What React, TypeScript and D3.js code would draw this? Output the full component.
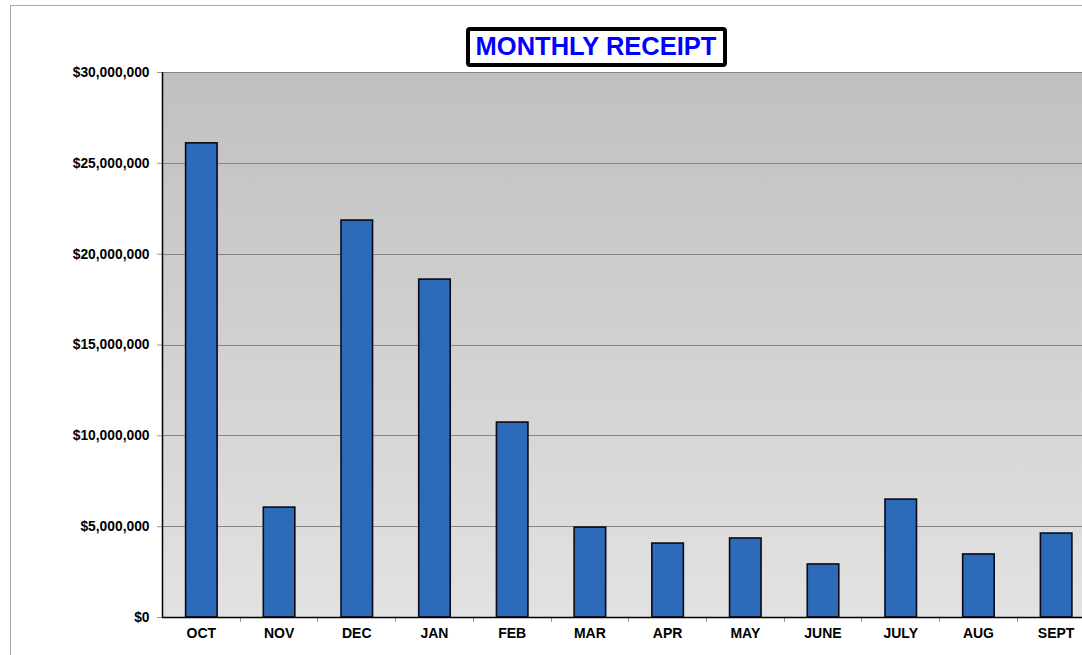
import * as d3 from 'd3';
import React, { useRef, useEffect } from 'react';

const months = ['OCT', 'NOV', 'DEC', 'JAN', 'FEB', 'MAR', 'APR', 'MAY', 'JUNE', 'JULY', 'AUG', 'SEPT'];
const receipts = [26100000, 6050000, 21850000, 18600000, 10730000, 4950000, 4070000, 4350000, 2920000, 6490000, 3470000, 4620000];
const yTicks = [0, 5000000, 10000000, 15000000, 20000000, 25000000, 30000000];

const W = 1082;
const H = 655;

function App() {
    const ref = useRef(null);

    useEffect(() => {
        draw();
    }, []);

    const draw = () => {
        const svg = d3.select(ref.current);
        svg.selectAll('*').remove();

        const left = 162, top = 72, bottom = 617, right = 1094.5;

        const x = d3.scaleBand().domain(months).range([left, right]).paddingInner(0).paddingOuter(0);
        const y = d3.scaleLinear().domain([0, 30000000]).range([bottom, top]);

        const defs = svg.append('defs');
        const grad = defs.append('linearGradient')
            .attr('id', 'bg')
            .attr('x1', 0).attr('y1', 0).attr('x2', 0).attr('y2', 1);
        grad.append('stop').attr('offset', '0%').attr('stop-color', '#c0c0c0');
        grad.append('stop').attr('offset', '100%').attr('stop-color', '#e2e2e2');

        // outer frame
        svg.append('rect')
            .attr('x', 10.5).attr('y', 5.5)
            .attr('width', W + 20).attr('height', H + 20)
            .attr('fill', 'white')
            .attr('stroke', '#a6a6a6');

        // plot background
        svg.append('rect')
            .attr('x', left).attr('y', top)
            .attr('width', right - left).attr('height', bottom - top)
            .attr('fill', 'url(#bg)');

        // gridlines
        svg.append('g')
            .selectAll('line')
            .data(yTicks.filter(d => d > 0))
            .enter()
            .append('line')
            .attr('x1', left).attr('x2', right)
            .attr('y1', d => Math.round(y(d)) + 0.5)
            .attr('y2', d => Math.round(y(d)) + 0.5)
            .attr('stroke', '#858585')
            .attr('stroke-width', 1);

        // y axis
        const yAxis = d3.axisLeft(y)
            .tickValues(yTicks)
            .tickSize(5)
            .tickPadding(7.5)
            .tickFormat(d => '$' + d3.format(',')(d));
        const gy = svg.append('g')
            .attr('transform', `translate(${left},0)`)
            .call(yAxis);
        gy.select('.domain').remove();
        gy.selectAll('.tick line').attr('stroke', '#999');
        gy.selectAll('.tick text')
            .attr('font-family', 'Liberation Sans, Arial, sans-serif')
            .attr('font-size', 13.8)
            .attr('font-weight', 'bold')
            .attr('fill', '#000');

        // bars
        const bw = 31.5;
        svg.append('g')
            .selectAll('rect')
            .data(receipts)
            .enter()
            .append('rect')
            .attr('x', (d, i) => x(months[i]) + x.bandwidth() / 2 - bw / 2 + 0.5)
            .attr('y', d => y(d))
            .attr('width', bw)
            .attr('height', d => bottom - y(d))
            .attr('fill', '#2d6bba')
            .attr('stroke', '#0a0a14')
            .attr('stroke-width', 1.6);

        // x axis ticks at band boundaries
        svg.append('g')
            .selectAll('line')
            .data(months.slice(1))
            .enter()
            .append('line')
            .attr('x1', d => Math.round(x(d)) + 0.5)
            .attr('x2', d => Math.round(x(d)) + 0.5)
            .attr('y1', bottom).attr('y2', bottom + 5)
            .attr('stroke', '#999');

        svg.append('g')
            .selectAll('text')
            .data(months)
            .enter()
            .append('text')
            .attr('x', d => x(d) + x.bandwidth() / 2 + 0.5)
            .attr('y', bottom + 21)
            .attr('text-anchor', 'middle')
            .attr('font-family', 'Liberation Sans, Arial, sans-serif')
            .attr('font-size', 14)
            .attr('font-weight', 'bold')
            .text(d => d);

        // axis lines
        svg.append('line')
            .attr('x1', left + 0.5).attr('x2', left + 0.5)
            .attr('y1', top).attr('y2', bottom + 0.5)
            .attr('stroke', '#000').attr('stroke-width', 1.5);
        svg.append('line')
            .attr('x1', left).attr('x2', right)
            .attr('y1', bottom + 0.5).attr('y2', bottom + 0.5)
            .attr('stroke', '#000').attr('stroke-width', 1.5);

        // title
        svg.append('rect')
            .attr('x', 468).attr('y', 29)
            .attr('width', 257).attr('height', 36)
            .attr('rx', 2)
            .attr('fill', 'white')
            .attr('stroke', '#000')
            .attr('stroke-width', 4);
        svg.append('text')
            .attr('x', 596).attr('y', 55)
            .attr('text-anchor', 'middle')
            .attr('font-family', 'Liberation Sans, Arial, sans-serif')
            .attr('font-size', 25.5)
            .attr('font-weight', 'bold')
            .attr('fill', '#0000ff')
            .text('MONTHLY RECEIPT');
    };

    return (
        <div style={{ position: 'absolute', left: 0, top: 0 }}>
            <svg ref={ref} width={W} height={H} style={{ display: 'block' }}></svg>
        </div>
    );
}

export default App;
